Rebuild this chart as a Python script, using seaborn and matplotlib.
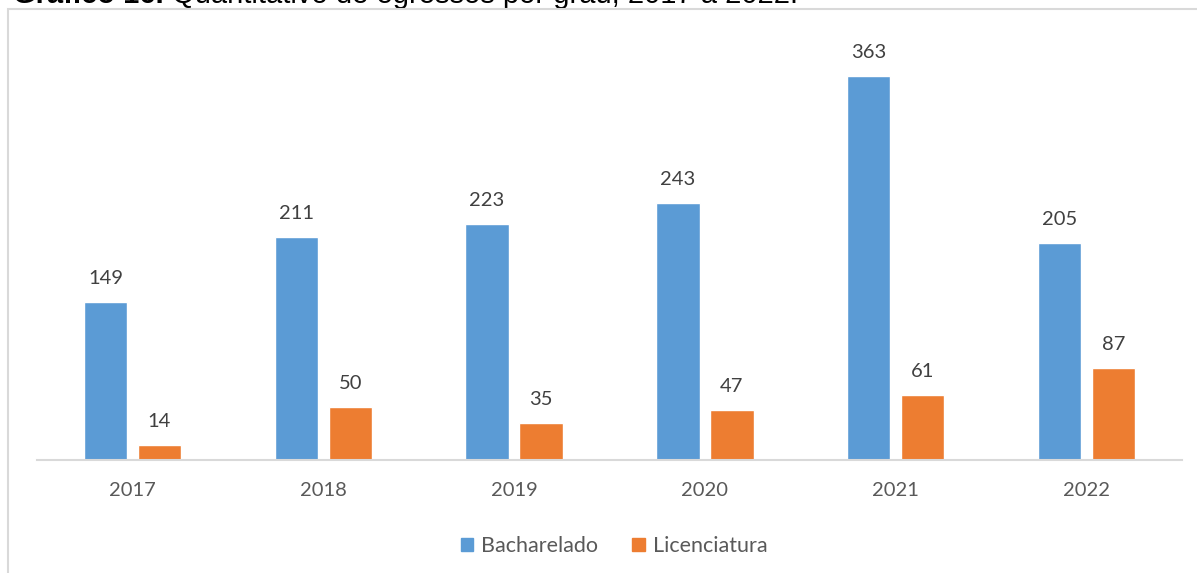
import matplotlib
matplotlib.use("Agg")
import matplotlib.pyplot as plt
import matplotlib.patches as mpatches
import pandas as pd
import seaborn as sns

anos = ["2017", "2018", "2019", "2020", "2021", "2022"]
bacharelado = [149, 211, 223, 243, 363, 205]
licenciatura = [14, 50, 35, 47, 61, 87]
graus = ["Bacharelado", "Licenciatura"]
cores = ["#5B9BD5", "#ED7D31"]

df = pd.DataFrame({
    "ano": anos * 2,
    "grau": [graus[0]] * len(anos) + [graus[1]] * len(anos),
    "valor": bacharelado + licenciatura,
})

sns.set_style("white")
plt.rcParams["font.family"] = ["Lato", "DejaVu Sans"]

fig = plt.figure(figsize=(11.97, 5.73), dpi=100)
ax = fig.add_axes([37 / 1197, 113 / 573, 1145 / 1197, 423 / 573])

# moldura cinza do grafico (cortada na imagem original)
fig.patches.append(mpatches.Rectangle((8 / 1197, -0.1), 1.2, (573 - 9) / 573 + 0.1,
                                      transform=fig.transFigure, fill=False,
                                      edgecolor="#D9D9D9", linewidth=1.5))

sns.barplot(data=df, x="ano", y="valor", hue="grau", order=anos, hue_order=graus,
            palette=cores, width=0.566, gap=0.2, saturation=1, ax=ax, legend=False)

for cont in ax.containers:
    for barra in cont:
        h = barra.get_height()
        ax.annotate(f"{h:.0f}", xy=(barra.get_x() + barra.get_width() / 2, h),
                    xytext=(0, 13), textcoords="offset points", ha="center",
                    va="baseline", fontsize=14.5, color="#404040")

ax.set_ylim(0, 400)
ax.set_xlim(-0.5, len(anos) - 0.5)
ax.set_xlabel("")
ax.set_ylabel("")
ax.set_yticks([])
for lado in ["top", "right", "left"]:
    ax.spines[lado].set_visible(False)
ax.spines["bottom"].set_color("#D9D9D9")
ax.spines["bottom"].set_linewidth(1.5)
ax.tick_params(axis="x", length=0, pad=16, labelsize=14.5, labelcolor="#595959")

handles = [mpatches.Patch(color=c, label=g) for c, g in zip(cores, graus)]
fig.legend(handles=handles, loc="center", bbox_to_anchor=(614 / 1197, 27 / 573),
           ncol=2, frameon=False, fontsize=15.5, labelcolor="#595959",
           handlelength=0.6, handleheight=0.6, handletextpad=0.35, columnspacing=1.6)

# titulo cortado no topo
t1 = fig.text(13 / 1197, 1 - 3 / 573, "Gráfico 16.", fontsize=21, fontweight="bold",
              family="Liberation Sans", va="baseline", ha="left", color="black")
ax.annotate(" Quantitativo de egressos por grau, 2017 a 2022.", xy=(1, 0), xycoords=t1,
            xytext=(0, 0), textcoords="offset points", fontsize=21,
            family="Liberation Sans", va="bottom", ha="left", color="black",
            annotation_clip=False)

fig.savefig("out.png", dpi=100)
